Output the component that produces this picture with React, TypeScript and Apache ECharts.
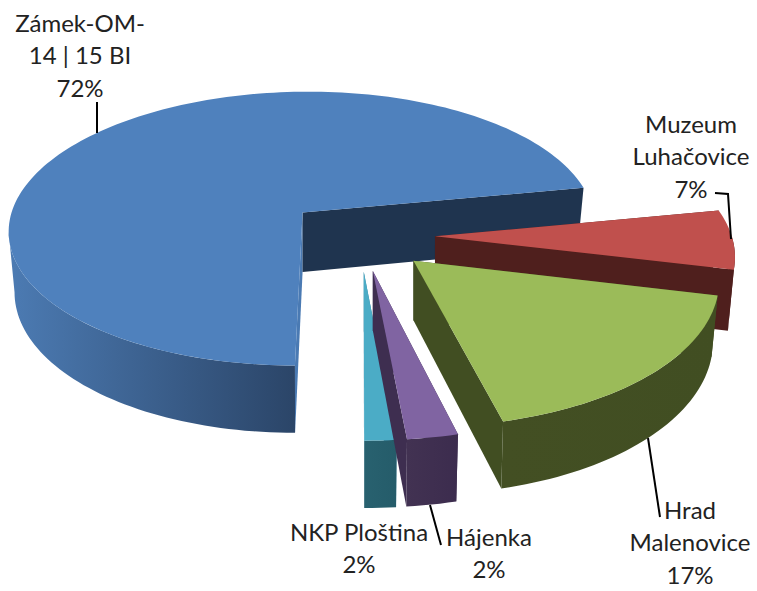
import React, { useEffect, useRef } from "react";
import * as echarts from "echarts";

const categories = ["Zámek-OM-\n14 | 15 BI", "Muzeum\nLuhačovice", "Hrad\nMalenovice", "Hájenka", "NKP Ploština"];
const values = [72, 6.7, 17.4, 2.4, 1.5];
const topColors = ["#4f81bd", "#c0504d", "#9bbb59", "#8064a2", "#4bacc6"];
const endWallColors = ["#1f344f", "#4f1f1d", "#414e22", "#3e2e50", "#3f83a0"];
const arcWallLeft = ["#4c7bb3", "#4f1f1d", "#434f23", "#423252", "#28616f"];
const arcWallRight = ["#2b4568", "#4f1f1d", "#414e22", "#3c2c4e", "#255c6a"];
const drawOrder = [0, 1, 2, 4, 3];

// Label anchors: centre x and the baseline of each line.
const labelCx = [80, 691, 690, 489, 359];
const labelBase = [30, 131, 517, 544, 539];
const leaders = [
  [[97, 102], [97, 133]],
  [[715, 193], [728, 194], [731, 239]],
  [[648, 438], [660, 517]],
  [[430, 505], [441, 545]],
  [],
];

const START = 180;
const K = 0.117;
const RX = 291;
const RY = 135;
const AXIS_X = 360.2;
const AXIS_Y = 235.5;
const EXPLODE_X = 74.8;
const EXPLODE_Y = 36;
const DEPTH = 59.5;
const BOTTOM_SHRINK = 0.98;
const FONT = 24;
const LINE = 32.5;
const rad = (d: number) => (d * Math.PI) / 180;

function sliceAngles(i: number) {
  let a = START;
  for (let j = 0; j < i; j++) a += (values[j] / 100) * 360;
  const a0 = a >= 360 ? a - 360 : a;
  return [a0, a0 + (values[i] / 100) * 360];
}

function geometry(i: number) {
  const [a0, a1] = sliceAngles(i);
  const mid = rad((a0 + a1) / 2);
  const dirX = Math.sin(mid);
  const dirY = -Math.cos(mid);
  const ax = AXIS_X + EXPLODE_X * dirX;
  const ay = AXIS_Y + EXPLODE_Y * dirY;
  const sx = 1 + 0.03 * (dirY + 0.64);
  const sy = 1 + 0.065 * (dirY + 0.64);
  const top = (deg: number, r: number) => {
    const X = r * Math.sin(rad(deg));
    const Y = -r * Math.cos(rad(deg));
    const s = 1 / (1 - K * Y);
    const off = ax - AXIS_X;
    return [(X * RX * sx + off) * s - off, Y * RY * sy * s, s];
  };
  const up = (deg: number, r: number) => {
    const [dx, dy] = top(deg, r);
    return [ax + dx, ay + dy];
  };
  const down = (deg: number, r: number) => {
    const [dx, dy, s] = top(deg, r);
    return [ax + dx * BOTTOM_SHRINK, ay + dy + DEPTH * s];
  };
  return { a0, a1, up, down };
}

function sample(from: number, to: number) {
  const n = Math.max(2, Math.ceil(Math.abs(to - from) / 1.5));
  const out: number[] = [];
  for (let k = 0; k <= n; k++) out.push(from + ((to - from) * k) / n);
  return out;
}

function renderSlice(_: any, api: any) {
  const i = api.value(0);
  const { a0, a1, up, down } = geometry(i);
  const children: any[] = [];
  const wall = (deg: number, color: string) => ({
    type: "polygon",
    shape: { points: [up(deg, 0), up(deg, 1), down(deg, 1), down(deg, 0)] },
    style: { fill: color },
  });
  children.push(wall(a0, i === 0 ? "#4a7ab3" : endWallColors[i]));

  // Outer rim wall: only the part turned towards the viewer, up to the left silhouette.
  const from = Math.max(a0, 90);
  const to = Math.min(a1, 262);
  if (to > from) {
    const angles = sample(from, to);
    const pts = [...angles.map((d) => up(d, 1)), ...angles.slice().reverse().map((d) => down(d, 1))];
    children.push({
      type: "polygon",
      shape: { points: pts },
      style: {
        fill: {
          type: "linear",
          x: 0,
          y: 0,
          x2: 1,
          y2: 0,
          colorStops: [
            { offset: 0, color: arcWallLeft[i] },
            { offset: 1, color: arcWallRight[i] },
          ],
        },
      },
    });
  }
  children.push(wall(a1, endWallColors[i]));
  children.push({
    type: "polygon",
    shape: { points: [up(a0, 0), ...sample(a0, a1).map((d) => up(d, 1))] },
    style: { fill: topColors[i] },
  });

  // Leader line
  if (leaders[i].length) {
    children.push({
      type: "polyline",
      shape: { points: leaders[i] },
      style: { stroke: "#000", lineWidth: 2, fill: "none" },
      z2: 10,
    });
  }
  // Label text
  const lines = [...categories[i].split("\n"), `${Math.round(values[i])}%`];
  lines.forEach((t, n) => {
    children.push({
      type: "text",
      x: labelCx[i],
      y: labelBase[i] + n * LINE - FONT * 0.33,
      z2: 11,
      style: {
        text: t,
        fill: "#222222",
        align: "center",
        verticalAlign: "middle",
        font: `${FONT}px Lato, "Open Sans", sans-serif`,
      },
    });
  });
  return { type: "group", children };
}

export default function App() {
  const ref = useRef<HTMLDivElement>(null);
  useEffect(() => {
    const chart = echarts.init(ref.current!, undefined, { renderer: "svg" });
    chart.setOption({
      animation: false,
      backgroundColor: "#ffffff",
      series: [
        {
          type: "custom",
          coordinateSystem: "none",
          renderItem: renderSlice,
          data: drawOrder.map((i) => [i, values[i]]),
          silent: true,
        },
      ],
    });
    return () => chart.dispose();
  }, []);
  return <div ref={ref} style={{ position: "absolute", left: 0, top: 0, width: 757, height: 591 }} />;
}
